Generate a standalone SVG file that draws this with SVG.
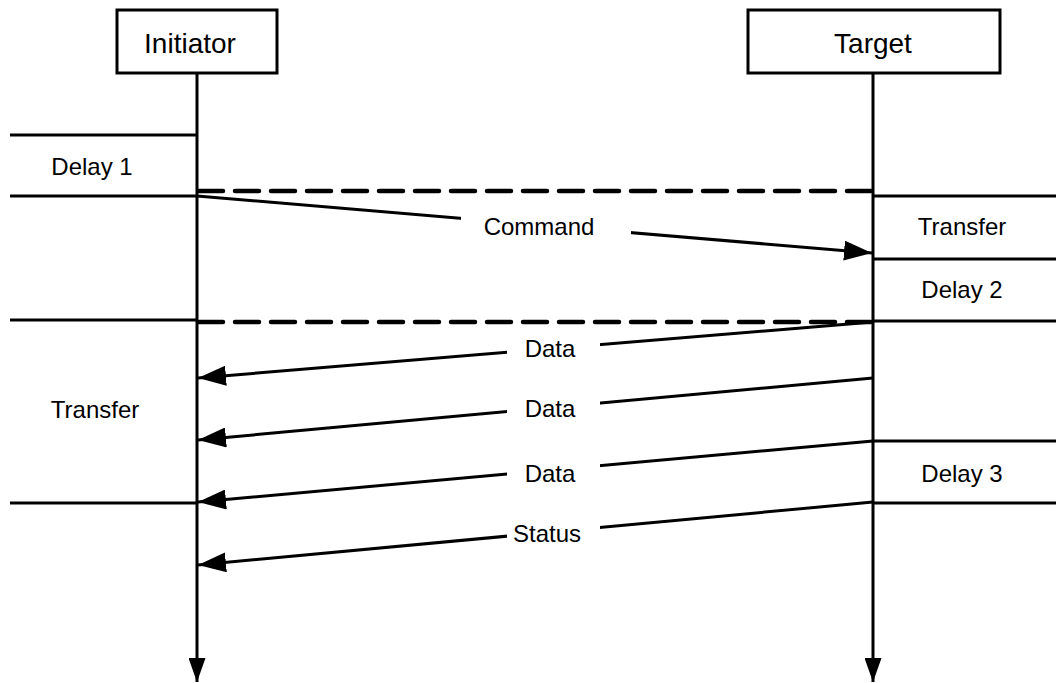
<svg xmlns="http://www.w3.org/2000/svg" width="1056" height="683" viewBox="0 0 1056 683">
  <defs>
    <marker id="msgHead" markerUnits="userSpaceOnUse" markerWidth="28" markerHeight="20" refX="28" refY="10" orient="auto" viewBox="0 0 28 20">
      <path d="M0,0 L28,10 L0,20 z" fill="#000"/>
    </marker>
    <marker id="lifeHead" markerUnits="userSpaceOnUse" markerWidth="24" markerHeight="17" refX="24" refY="8.5" orient="auto" viewBox="0 0 24 17">
      <path d="M0,0 L24,8.5 L0,17 z" fill="#000"/>
    </marker>
    <style>
      .box { fill: #fff; stroke: #000; stroke-width: 3; }
      .line { stroke: #000; stroke-width: 3; fill: none; }
      .dash { stroke: #000; stroke-width: 4.5; fill: none; stroke-dasharray: 24 12; stroke-linecap: round; }
      .msg { stroke: #000; stroke-width: 3; fill: none; marker-end: url(#msgHead); }
      .life { stroke: #000; stroke-width: 3; fill: none; marker-end: url(#lifeHead); }
      .lbl { font-family: "Liberation Sans", Arial, sans-serif; font-size: 24px; fill: #000; text-anchor: middle; }
      .title { font-family: "Liberation Sans", Arial, sans-serif; font-size: 28px; fill: #000; text-anchor: middle; }
      .mask { fill: #fff; stroke: none; }
    </style>
  </defs>

  <!-- lifelines -->
  <g id="lifelines">
    <line class="life" x1="197" y1="73" x2="197" y2="682"/>
    <line class="life" x1="873" y1="73" x2="873" y2="682"/>
  </g>

  <!-- participants -->
  <g id="initiator">
    <rect class="box" x="117" y="10" width="160" height="63"/>
    <text class="title" x="190" y="53">Initiator</text>
  </g>
  <g id="target">
    <rect class="box" x="748" y="10" width="252" height="63"/>
    <text class="title" x="873" y="53">Target</text>
  </g>

  <!-- phase boundaries -->
  <g id="phases">
    <line class="line" x1="10" y1="135" x2="197" y2="135"/>
    <line class="line" x1="10" y1="196" x2="197" y2="196"/>
    <line class="line" x1="10" y1="320" x2="197" y2="320"/>
    <line class="line" x1="10" y1="503" x2="197" y2="503"/>
    <line class="line" x1="873" y1="196" x2="1056" y2="196"/>
    <line class="line" x1="873" y1="259" x2="1056" y2="259"/>
    <line class="line" x1="873" y1="321" x2="1056" y2="321"/>
    <line class="line" x1="873" y1="441" x2="1056" y2="441"/>
    <line class="line" x1="873" y1="503" x2="1056" y2="503"/>
    <line class="dash" x1="199" y1="191" x2="871" y2="191"/>
    <line class="dash" x1="199" y1="322" x2="871" y2="322"/>
    <text class="lbl" x="92" y="175">Delay 1</text>
    <text class="lbl" x="95" y="418">Transfer</text>
    <text class="lbl" x="962" y="235">Transfer</text>
    <text class="lbl" x="962" y="298">Delay 2</text>
    <text class="lbl" x="962" y="482">Delay 3</text>
  </g>

  <!-- messages -->
  <g id="connectors">
    <g id="command">
      <line class="msg" x1="197" y1="196" x2="872" y2="253"/>
      <rect class="mask" x="461" y="205" width="170" height="40"/>
      <text class="lbl" x="539" y="235">Command</text>
    </g>
    <g id="data1">
      <line class="msg" x1="873" y1="322" x2="198" y2="378"/>
      <rect class="mask" x="507" y="335" width="93" height="30"/>
      <text class="lbl" x="550" y="357">Data</text>
    </g>
    <g id="data2">
      <line class="msg" x1="873" y1="378" x2="198" y2="440"/>
      <rect class="mask" x="507" y="395" width="93" height="30"/>
      <text class="lbl" x="550" y="417">Data</text>
    </g>
    <g id="data3">
      <line class="msg" x1="873" y1="441" x2="198" y2="502"/>
      <rect class="mask" x="507" y="458" width="93" height="30"/>
      <text class="lbl" x="550" y="482">Data</text>
    </g>
    <g id="status">
      <line class="msg" x1="873" y1="502" x2="198" y2="565"/>
      <rect class="mask" x="507" y="518" width="93" height="30"/>
      <text class="lbl" x="547" y="542">Status</text>
    </g>
  </g>
</svg>
